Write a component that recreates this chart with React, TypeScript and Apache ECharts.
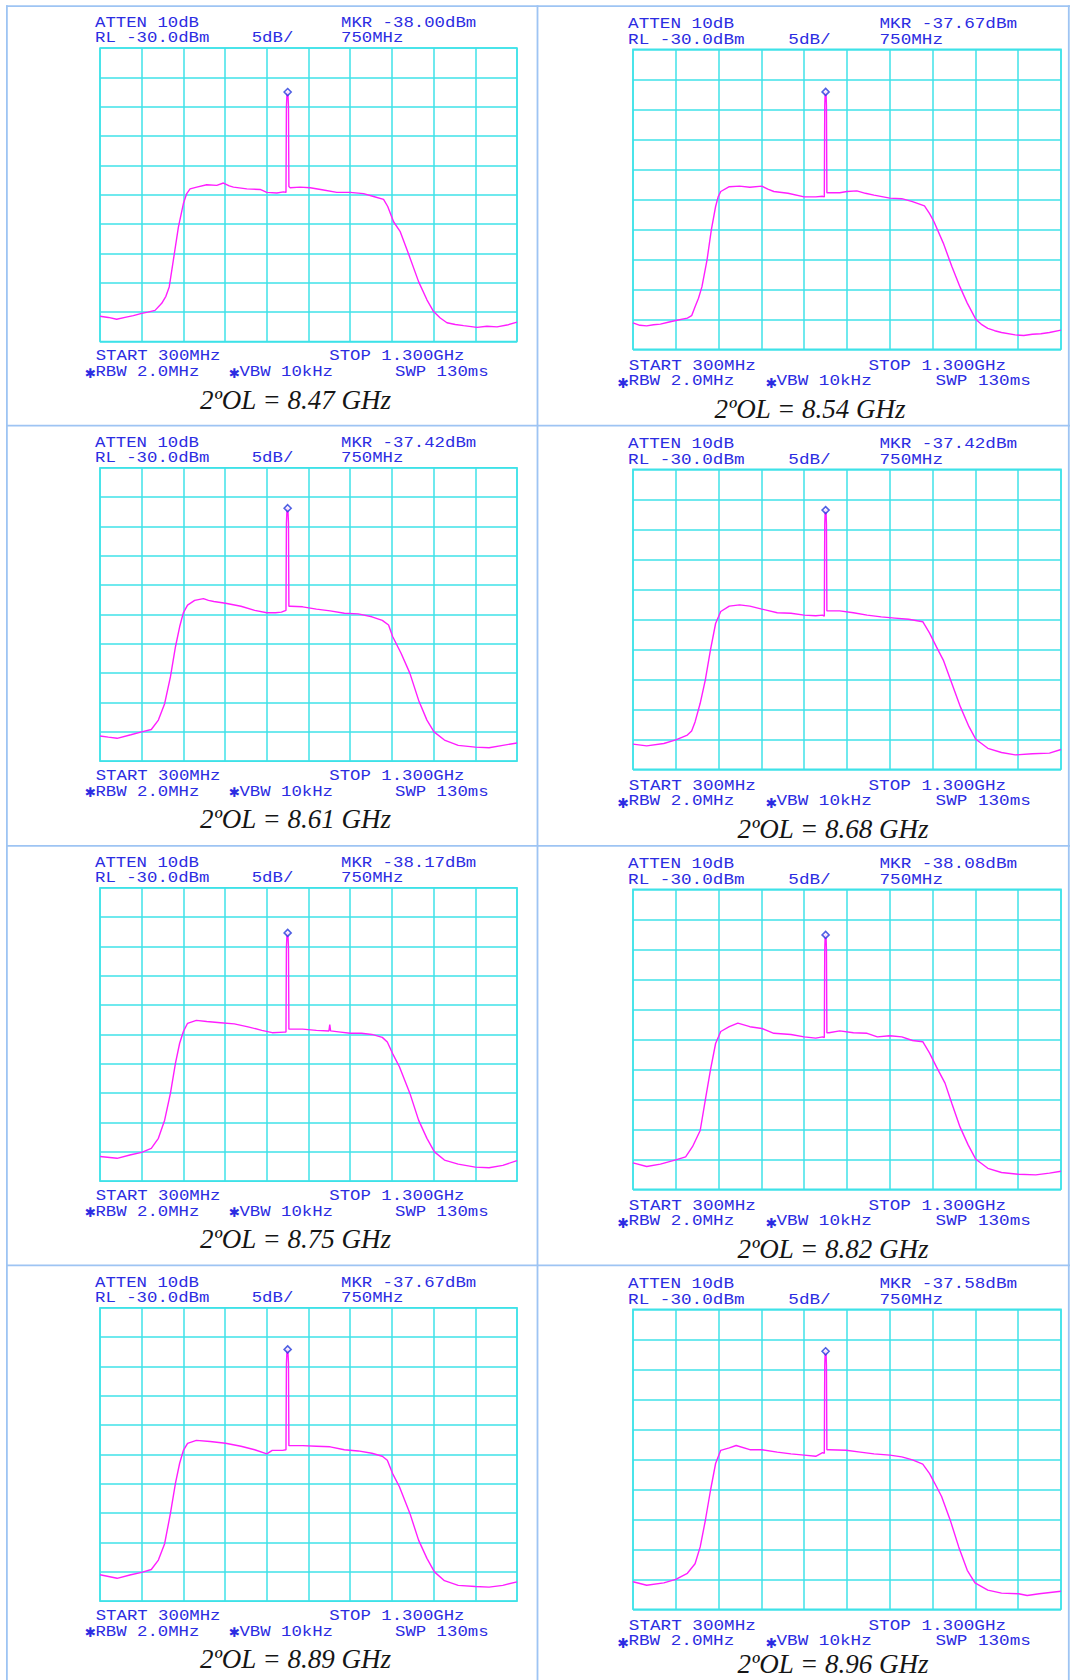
import React, { useEffect, useRef } from "react";
import * as echarts from "echarts";

// ---- instrument settings (same on every screen) ----
const START_MHZ = 300;
const STOP_MHZ = 1300;
const FREQ_STEP_MHZ = 100;
const REF_LEVEL_DBM = -30;
const BOTTOM_DBM = -80;
const DB_PER_DIV = 5;
const MARKER_MHZ = 750;

const HEADER_ATTEN = "ATTEN 10dB";
const HEADER_RL = "RL -30.0dBm";
const HEADER_SCALE = "5dB/";
const HEADER_MKR_FREQ = "750MHz";
const FOOT_START = "START 300MHz";
const FOOT_STOP = "STOP 1.300GHz";
const FOOT_RBW = "RBW 2.0MHz";
const FOOT_VBW = "VBW 10kHz";
const FOOT_SWP = "SWP 130ms";

// ---- per-screen values ----
const OL_GHZ = ["8.47", "8.54", "8.61", "8.68", "8.75", "8.82", "8.89", "8.96"];
const MKR_READOUT = ["-38.00", "-37.67", "-37.42", "-37.42", "-38.17", "-38.08", "-37.67", "-37.58"];
const PEAK_DBM = [-37.5, -37.1, -36.9, -36.8, -37.7, -37.6, -37.1, -37.0];

// traces: [MHz, dBm]
const TRACE_847 = [
  [300, -75.7], [320, -75.9], [340, -76.2], [360, -75.9], [380, -75.6], [400, -75.2], [415, -75.0], [432, -74.7],
  [448, -73.5], [458, -72.3], [466, -70.7], [476, -66.1], [488, -60.5], [500, -56.5], [508, -54.8], [516, -54.0],
  [532, -53.7], [556, -53.3], [580, -53.4], [596, -53.0], [610, -53.5], [620, -53.7], [652, -54.0], [684, -54.1],
  [700, -54.6], [724, -54.7], [740, -54.5], [746, -54.6], [747, -40.0], [748.5, -37.5], [750.5, -37.5], [752, -40.0],
  [753, -53.6], [756, -53.8], [780, -53.7], [804, -53.8], [836, -54.2], [868, -54.6], [900, -54.6], [932, -54.8],
  [956, -55.3], [980, -55.8], [990, -57.0], [1004, -59.6], [1020, -61.3], [1040, -65.1], [1064, -69.8], [1084, -72.9],
  [1100, -74.9], [1116, -76.0], [1132, -76.8], [1152, -77.1], [1172, -77.3], [1204, -77.6], [1228, -77.4],
  [1252, -77.5], [1276, -77.2], [1300, -76.7],
];
const TRACE_854 = [
  [300, -75.6], [316, -76.0], [332, -76.1], [348, -75.9], [364, -75.8], [382, -75.5], [400, -75.2], [427, -74.8],
  [437, -74.4], [445, -72.9], [453, -71.5], [461, -69.6], [473, -65.1], [483, -60.1], [493, -56.2], [499, -54.6],
  [505, -53.7], [525, -52.9], [549, -52.8], [573, -53.0], [601, -52.8], [615, -53.3], [629, -53.7], [662, -54.0],
  [700, -54.6], [727, -54.6], [743, -54.5], [747, -54.6], [748, -39.5], [749, -37.1], [751, -37.1], [752, -39.5],
  [753, -53.9], [757, -53.9], [783, -53.9], [800, -53.7], [823, -53.6], [843, -54.0], [863, -54.3], [900, -54.8],
  [928, -54.9], [953, -55.4], [981, -56.1], [993, -57.4], [1003, -58.7], [1025, -62.3], [1045, -66.2], [1064, -69.6],
  [1081, -72.3], [1101, -75.0], [1115, -75.9], [1129, -76.5], [1145, -76.9], [1161, -77.2], [1193, -77.6],
  [1213, -77.7], [1233, -77.5], [1253, -77.4], [1273, -77.2], [1300, -76.8],
];
const TRACE_861 = [
  [300, -75.7], [320, -75.9], [341, -76.1], [374, -75.5], [400, -75.0], [423, -74.6], [440, -73.0], [455, -70.2],
  [469, -65.6], [481, -60.5], [491, -57.1], [500, -54.7], [510, -53.4], [527, -52.6], [548, -52.3], [560, -52.6],
  [573, -52.8], [601, -53.1], [638, -53.6], [671, -54.3], [700, -54.7], [721, -54.7], [735, -54.6], [746, -54.3],
  [747, -39.5], [748.5, -36.9], [750.5, -36.9], [752, -39.5], [753, -53.6], [757, -53.6], [786, -53.7], [819, -54.1],
  [852, -54.4], [886, -54.8], [919, -54.9], [952, -55.4], [977, -56.0], [992, -56.8], [1002, -58.8], [1022, -61.6],
  [1043, -65.0], [1064, -69.6], [1084, -73.0], [1101, -75.0], [1126, -76.4], [1159, -77.3], [1200, -77.6],
  [1233, -77.7], [1266, -77.3], [1300, -76.9],
];
const TRACE_868 = [
  [300, -75.8], [332, -76.1], [372, -75.7], [400, -75.1], [427, -74.3], [437, -73.6], [445, -72.1], [457, -69.0],
  [469, -65.1], [481, -60.1], [493, -55.7], [505, -53.7], [525, -52.8], [549, -52.6], [573, -52.8], [601, -53.3],
  [637, -53.9], [669, -54.0], [700, -54.3], [727, -54.4], [743, -54.3], [747, -54.5], [748, -39.3], [749, -36.8],
  [751, -36.8], [752, -39.3], [753, -53.6], [758, -53.6], [783, -53.6], [815, -53.9], [847, -54.3], [880, -54.6],
  [912, -54.8], [944, -55.0], [977, -55.4], [993, -57.3], [1009, -59.6], [1025, -61.8], [1045, -65.7], [1065, -69.6],
  [1085, -72.9], [1101, -75.0], [1129, -76.5], [1161, -77.2], [1193, -77.6], [1233, -77.4], [1273, -77.3],
  [1300, -76.7],
];
const TRACE_875 = [
  [300, -75.8], [341, -76.1], [374, -75.5], [400, -75.1], [423, -74.4], [440, -72.7], [455, -69.6], [469, -65.0],
  [481, -59.9], [491, -56.5], [500, -54.5], [510, -53.1], [531, -52.6], [556, -52.8], [589, -53.0], [622, -53.2],
  [655, -53.7], [688, -54.3], [713, -54.7], [742, -54.6], [746, -54.6], [747, -40.2], [748.5, -37.7], [750.5, -37.7],
  [752, -40.2], [753, -54.1], [757, -54.1], [786, -54.1], [819, -54.3], [849, -54.4], [851, -53.3], [853, -54.4],
  [877, -54.6], [900, -54.8], [927, -54.8], [952, -55.0], [977, -55.5], [989, -56.3], [1002, -58.3], [1018, -60.5],
  [1043, -65.0], [1064, -69.6], [1084, -72.7], [1102, -75.0], [1126, -76.4], [1159, -77.1], [1200, -77.6],
  [1233, -77.7], [1266, -77.3], [1300, -76.5],
];
const TRACE_882 = [
  [300, -75.6], [332, -76.2], [364, -75.8], [400, -75.1], [423, -74.6], [439, -72.9], [457, -70.2], [469, -65.1],
  [481, -60.1], [493, -55.7], [505, -53.7], [525, -52.9], [545, -52.3], [573, -52.9], [601, -53.2], [629, -54.0],
  [669, -54.2], [700, -54.6], [727, -54.8], [743, -54.6], [747, -54.7], [748, -40.1], [749, -37.6], [751, -37.6],
  [752, -40.1], [753, -53.9], [758, -53.9], [783, -53.6], [815, -53.9], [847, -54.0], [871, -54.6], [900, -54.4],
  [928, -54.6], [953, -55.2], [977, -55.4], [993, -57.3], [1009, -59.6], [1029, -62.3], [1045, -65.7], [1064, -69.6],
  [1083, -72.6], [1101, -75.0], [1129, -76.5], [1161, -77.2], [1201, -77.5], [1241, -77.6], [1273, -77.3],
  [1300, -77.0],
];
const TRACE_889 = [
  [300, -75.5], [341, -76.1], [374, -75.5], [400, -75.1], [423, -74.6], [440, -73.0], [455, -70.2], [469, -65.0],
  [481, -59.9], [491, -56.5], [500, -54.3], [510, -53.1], [531, -52.6], [564, -52.8], [601, -53.1], [638, -53.6],
  [671, -54.2], [700, -54.9], [713, -54.3], [738, -54.3], [746, -54.2], [747, -39.6], [748.5, -37.1], [750.5, -37.1],
  [752, -39.6], [753, -53.5], [757, -53.5], [786, -53.5], [819, -53.6], [852, -53.7], [886, -54.2], [919, -54.4],
  [952, -54.8], [977, -55.3], [989, -56.0], [1002, -58.3], [1018, -60.5], [1043, -65.0], [1064, -69.6], [1084, -72.7],
  [1102, -75.0], [1126, -76.5], [1159, -77.3], [1200, -77.5], [1233, -77.6], [1266, -77.3], [1300, -76.7],
];
const TRACE_896 = [
  [300, -75.4], [332, -76.0], [372, -75.6], [400, -75.0], [427, -74.0], [445, -72.4], [457, -69.6], [469, -65.2],
  [481, -60.2], [493, -55.7], [505, -53.5], [525, -53.1], [541, -52.7], [573, -53.4], [601, -53.4], [637, -53.8],
  [669, -54.1], [700, -54.3], [727, -54.5], [743, -53.9], [747, -54.0], [748, -39.5], [749, -37.0], [751, -37.0],
  [752, -39.5], [753, -53.4], [758, -53.4], [798, -53.5], [831, -53.8], [863, -54.1], [900, -54.3], [928, -54.6],
  [953, -55.1], [977, -55.8], [993, -57.4], [1005, -59.0], [1021, -61.2], [1041, -65.1], [1061, -69.6], [1081, -73.5],
  [1099, -75.6], [1129, -76.8], [1161, -77.3], [1201, -77.4], [1221, -77.7], [1249, -77.4], [1300, -77.0],
];

const TRACES = [TRACE_847, TRACE_854, TRACE_861, TRACE_868, TRACE_875, TRACE_882, TRACE_889, TRACE_896];

// ---- layout & style ----
const GRID_CYAN = "#3fe2e8";
const TRACE_MAGENTA = "#ff1eff";
const TEXT_BLUE = "#2c2ce2";
const MARKER_BLUE = "#2438dc";
const BORDER_BLUE = "#9ec4f3";
const PAGE_H = 1680;

const COLS = [
  {
    left: 100, width: 417, height: 293.5, tops: [48, 467.7, 887.7, 1307.7],
    fs: 14, sx: 1.238, adv: 10.4,
    hdr1: 20.7, hdr2: 5.6, attenX: -5, mkrX: 241, divX: 151.7,
    startY: 19, startX: -4.3, stopX: 229.3, bwY: 34.7, rbwX: -15, vbwX: 129, swpX: 295, capY: 67.3,
  },
  {
    left: 633, width: 428, height: 300, tops: [49.3, 469.3, 889.3, 1309.3],
    fs: 14.5, sx: 1.218, adv: 10.6,
    hdr1: 21.3, hdr2: 5.3, attenX: -4.9, mkrX: 246.5, divX: 155.3,
    startY: 20.7, startX: -4.2, stopX: 235.5, bwY: 36.4, rbwX: -15.2, vbwX: 132.9, swpX: 302.6, capY: 69,
  },
];
const CAPTION_CX = [295.5, 810, 295.5, 833, 295.5, 833, 295.5, 833];
const CAPTION_FS = 27;

function monoText(x: number, baseline: number, text: string, c: any, family = '"Liberation Mono", "DejaVu Sans Mono", monospace') {
  return {
    type: "text",
    x,
    y: baseline - 0.2665 * c.fs,
    scaleX: c.sx,
    silent: true,
    style: {
      text,
      font: `${c.fs}px ${family}`,
      fill: TEXT_BLUE,
      textAlign: "left",
      textVerticalAlign: "middle",
      align: "left",
      verticalAlign: "middle",
    },
  };
}

function starred(x: number, baseline: number, text: string, c: any) {
  return [
    monoText(x - 0.5, baseline + 0.5, "\u2731", { ...c, fs: c.fs * 0.95, sx: 1 }, '"DejaVu Sans", sans-serif'),
    monoText(x + c.adv, baseline, text, c),
  ];
}

function buildOption() {
  const panels = TRACES.map((_, i) => {
    const c = COLS[i % 2];
    const top = c.tops[Math.floor(i / 2)];
    return { c, top, left: c.left, width: c.width, height: c.height, bottom: top + c.height };
  });

  const graphics: any[] = [];
  // table borders
  const hLines = [6.2, 425.7, 845.8, 1265.3];
  hLines.forEach((y) =>
    graphics.push({ type: "line", silent: true, shape: { x1: 6, y1: y, x2: 1070, y2: y }, style: { stroke: BORDER_BLUE, lineWidth: 1.8 } })
  );
  [6.9, 537.5, 1068.8].forEach((x) =>
    graphics.push({ type: "line", silent: true, shape: { x1: x, y1: 5.3, x2: x, y2: PAGE_H }, style: { stroke: BORDER_BLUE, lineWidth: 1.8 } })
  );

  panels.forEach((p, i) => {
    const c = p.c;
    const L = p.left;
    graphics.push(monoText(L + c.attenX, p.top - c.hdr1, HEADER_ATTEN, c));
    graphics.push(monoText(L + c.mkrX, p.top - c.hdr1, `MKR ${MKR_READOUT[i]}dBm`, c));
    graphics.push(monoText(L + c.attenX, p.top - c.hdr2, HEADER_RL, c));
    graphics.push(monoText(L + c.divX, p.top - c.hdr2, HEADER_SCALE, c));
    graphics.push(monoText(L + c.mkrX, p.top - c.hdr2, HEADER_MKR_FREQ, c));
    graphics.push(monoText(L + c.startX, p.bottom + c.startY, FOOT_START, c));
    graphics.push(monoText(L + c.stopX, p.bottom + c.startY, FOOT_STOP, c));
    graphics.push(...starred(L + c.rbwX, p.bottom + c.bwY, FOOT_RBW, c));
    graphics.push(...starred(L + c.vbwX, p.bottom + c.bwY, FOOT_VBW, c));
    graphics.push(monoText(L + c.swpX, p.bottom + c.bwY, FOOT_SWP, c));
    // keep the caption's box inside the page
    const baseline = Math.min(p.bottom + c.capY, PAGE_H - 0.22 * CAPTION_FS - 0.5);
    graphics.push({
      type: "text",
      x: CAPTION_CX[i],
      y: baseline - 0.3375 * CAPTION_FS,
      silent: true,
      style: {
        text: `2\u00baOL = ${OL_GHZ[i]} GHz`,
        font: `italic ${CAPTION_FS}px "Liberation Serif", "Times New Roman", serif`,
        fill: "#151515",
        textAlign: "center",
        textVerticalAlign: "middle",
        align: "center",
        verticalAlign: "middle",
      },
    });
  });

  return {
    animation: false,
    backgroundColor: "#ffffff",
    grid: panels.map((p) => ({
      left: p.left,
      top: p.top,
      width: p.width,
      height: p.height,
      show: true,
      borderColor: GRID_CYAN,
      borderWidth: 1.5,
      backgroundColor: "transparent",
      containLabel: false,
    })),
    xAxis: panels.map((_, i) => ({
      type: "value",
      gridIndex: i,
      min: START_MHZ,
      max: STOP_MHZ,
      interval: FREQ_STEP_MHZ,
      axisLine: { show: false },
      axisTick: { show: false },
      axisLabel: { show: false },
      splitLine: { show: true, lineStyle: { color: GRID_CYAN, width: 1.5 } },
    })),
    yAxis: panels.map((_, i) => ({
      type: "value",
      gridIndex: i,
      min: BOTTOM_DBM,
      max: REF_LEVEL_DBM,
      interval: DB_PER_DIV,
      axisLine: { show: false },
      axisTick: { show: false },
      axisLabel: { show: false },
      splitLine: { show: true, lineStyle: { color: GRID_CYAN, width: 1.5 } },
    })),
    series: [
      ...TRACES.map((t, i) => ({
        type: "line",
        xAxisIndex: i,
        yAxisIndex: i,
        data: t,
        symbol: "none",
        silent: true,
        lineStyle: { color: TRACE_MAGENTA, width: 1.4 },
        z: 3,
      })),
      ...TRACES.map((_, i) => ({
        type: "scatter",
        xAxisIndex: i,
        yAxisIndex: i,
        data: [[MARKER_MHZ, PEAK_DBM[i]]],
        symbol: "diamond",
        symbolSize: 7,
        silent: true,
        itemStyle: { color: "#ffffff", borderColor: MARKER_BLUE, borderWidth: 1.6 },
        z: 4,
      })),
    ],
    graphic: { elements: graphics },
  };
}

export default function App() {
  const ref = useRef<HTMLDivElement>(null);
  useEffect(() => {
    if (!ref.current) return;
    const chart = echarts.init(ref.current, null, { renderer: "svg" });
    chart.setOption(buildOption() as any);
    return () => chart.dispose();
  }, []);
  return (
    <div
      ref={ref}
      style={{ position: "absolute", left: 0, top: 0, width: 1070, height: 1680, background: "#fff" }}
    />
  );
}
